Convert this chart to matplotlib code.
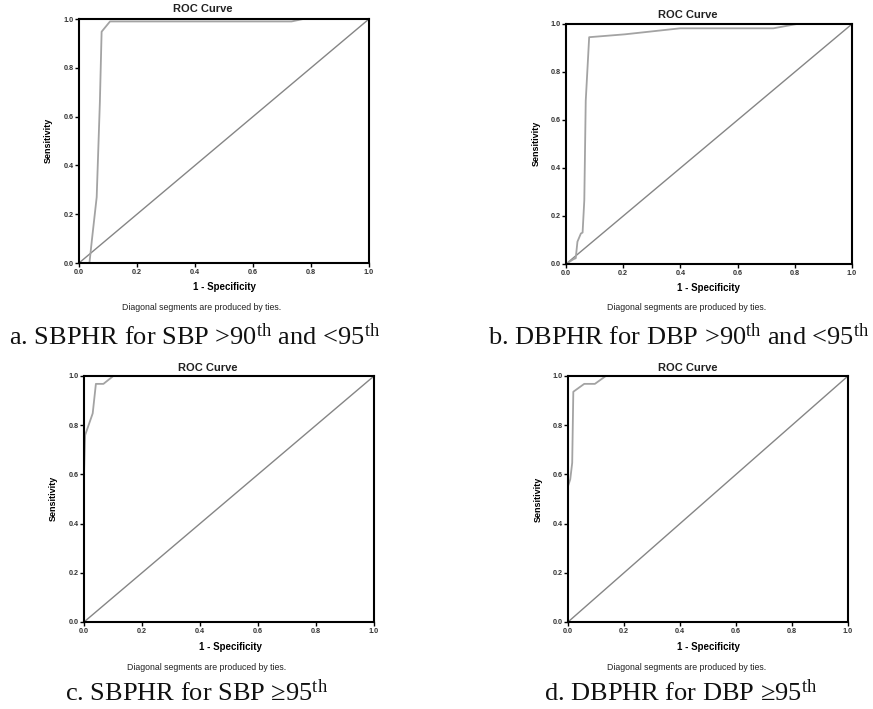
import matplotlib
matplotlib.use("Agg")
import matplotlib.pyplot as plt

plt.rcParams['mathtext.fontset'] = 'custom'
plt.rcParams['mathtext.rm'] = 'Liberation Serif'
plt.rcParams['mathtext.it'] = 'Liberation Serif:italic'

W, H = 873, 709

# ---- data ----
ticks = [0.0, 0.2, 0.4, 0.6, 0.8, 1.0]
tick_labels = ["0.0", "0.2", "0.4", "0.6", "0.8", "1.0"]

fpr_a = [0.0, 0.036, 0.045, 0.061, 0.072, 0.078, 0.107, 0.733, 0.773, 1.0]
tpr_a = [0.0, 0.0, 0.10, 0.27, 0.66, 0.948, 0.99, 0.99, 1.0, 1.0]

fpr_b = [0.0, 0.026, 0.034, 0.040, 0.052, 0.058, 0.064, 0.069, 0.081, 0.206, 0.399, 0.725, 0.807, 1.0]
tpr_b = [0.0, 0.02, 0.024, 0.093, 0.127, 0.131, 0.266, 0.68, 0.945, 0.957, 0.982, 0.982, 1.0, 1.0]

fpr_c = [0.0, 0.0, 0.004, 0.030, 0.041, 0.067, 0.101, 1.0]
tpr_c = [0.0, 0.60, 0.76, 0.848, 0.968, 0.968, 1.0, 1.0]

fpr_d = [0.0, 0.0, 0.008, 0.015, 0.019, 0.058, 0.096, 0.135, 1.0]
tpr_d = [0.0, 0.552, 0.58, 0.647, 0.936, 0.968, 0.968, 1.0, 1.0]

captions = [
    r"a. SBPHR for SBP >90$^{\mathrm{th}}$ and <95$^{\mathrm{th}}$",
    r"b. DBPHR for DBP >90$^{\mathrm{th}}$ and <95$^{\mathrm{th}}$",
    r"c. SBPHR for SBP ≥95$^{\mathrm{th}}$",
    r"d. DBPHR for DBP ≥95$^{\mathrm{th}}$",
]

# ---- layout (pixel coords) ----
panels = [
    dict(box=(79, 369, 19, 263), x=fpr_a, y=tpr_a, title=(203, 9.5), xl=(224, 287),
         note=(202, 307), yl=(48, 140), cap=(195, 337)),
    dict(box=(566, 852, 24, 264), x=fpr_b, y=tpr_b, title=(688, 15), xl=(708, 288),
         note=(687, 307), yl=(536, 143), cap=(679, 337)),
    dict(box=(84, 374, 376, 622), x=fpr_c, y=tpr_c, title=(208, 368), xl=(230, 647),
         note=(207, 667), yl=(53, 498), cap=(197, 693)),
    dict(box=(568, 848, 376, 622), x=fpr_d, y=tpr_d, title=(688, 368), xl=(708, 647),
         note=(687, 667), yl=(538, 499), cap=(681, 693)),
]

fig = plt.figure(figsize=(W / 100, H / 100), dpi=100)
sans = 'Liberation Sans'

def fx(px):
    return px / W

def fy(py):
    return 1 - py / H

for i, p in enumerate(panels):
    l, r, t, b = p['box']
    ax = fig.add_axes([fx(l), fy(b), (r - l) / W, (b - t) / H])
    ax.plot([0, 1], [0, 1], color='#858585', lw=1.0, zorder=2)
    ax.plot(p['x'], p['y'], color='#a3a3a3', lw=1.3, zorder=3)
    ax.set_xlim(0, 1)
    ax.set_ylim(0, 1)
    ax.set_xticks(ticks)
    ax.set_yticks(ticks)
    ax.set_xticklabels(tick_labels, fontsize=5.2, family=sans, fontweight='bold', color='#333333')
    ax.set_yticklabels(tick_labels, fontsize=5.2, family=sans, fontweight='bold', color='#333333')
    ax.tick_params(direction='out', length=3, width=1.0, pad=1, top=False, right=False)
    for s in ax.spines.values():
        s.set_linewidth(1.5)
        s.set_color('black')
        s.set_zorder(4)
    ax.set_facecolor('white')

    fig.text(fx(p['title'][0]), fy(p['title'][1]), "ROC Curve", ha='center', va='center',
             fontsize=8, fontweight='bold', family=sans, color='#222222')
    fig.text(fx(p['xl'][0]), fy(p['xl'][1]), "1 - Specificity", ha='center', va='center',
             fontsize=7, fontweight='bold', family=sans)
    fig.text(fx(p['yl'][0]), fy(p['yl'][1]), "Sensitivity", ha='center', va='center',
             rotation=90, fontsize=6.5, fontweight='bold', family=sans)
    fig.text(fx(p['note'][0]), fy(p['note'][1]), "Diagonal segments are produced by ties.",
             ha='center', va='center', fontsize=6.3, family=sans, color='#222222')
    fig.text(fx(p['cap'][0]), fy(p['cap'][1]), captions[i], ha='center', va='center',
             fontsize=19, family='Liberation Serif', color='#111111')

fig.savefig("out.png", dpi=100, facecolor='white')
